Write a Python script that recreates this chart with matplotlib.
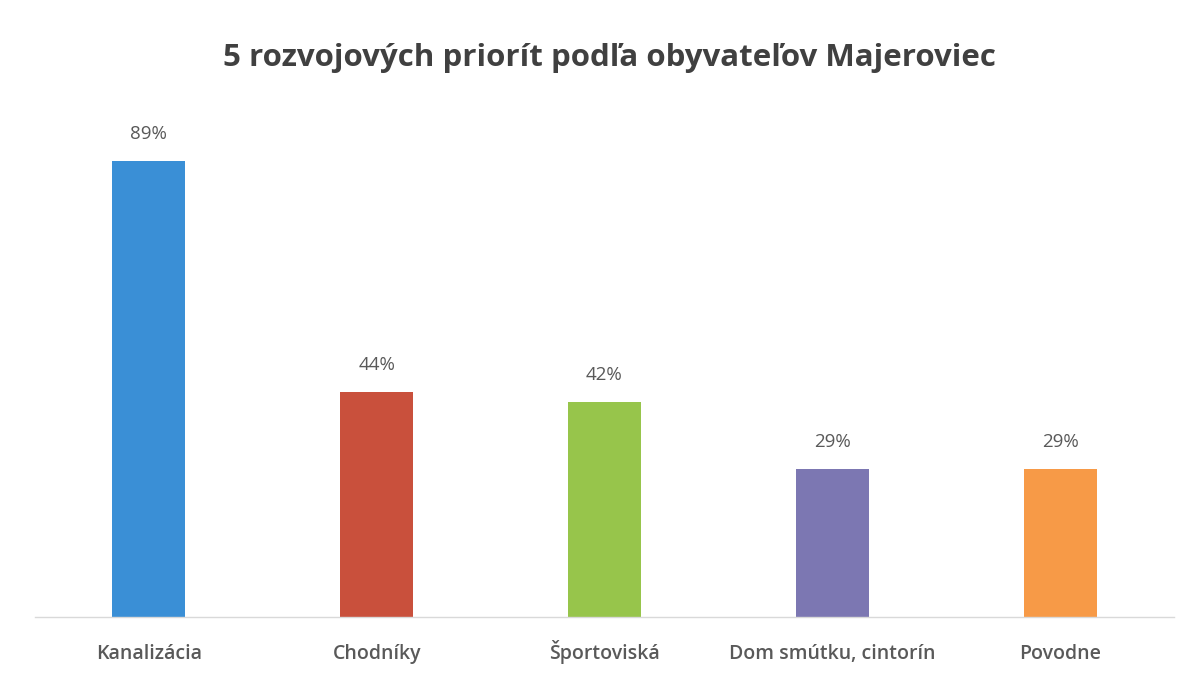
import matplotlib
matplotlib.use("Agg")
import matplotlib.pyplot as plt

categories = ["Kanalizácia", "Chodníky", "Športoviská", "Dom smútku, cintorín", "Povodne"]
values = [89, 44, 42, 29, 29]
labels = ["89%", "44%", "42%", "29%", "29%"]
colors = ["#3a8fd6", "#c9503c", "#97c54b", "#7c77b2", "#f79a47"]

plt.rcParams['font.family'] = ['Open Sans', 'DejaVu Sans']

fig = plt.figure(figsize=(11.93, 6.83), dpi=100)
ax = fig.add_axes([35/1193, 1 - 617/683, (1174-35)/1193, (617-105)/683])

x = list(range(len(categories)))
ax.bar(x, values, width=0.32, color=colors)
for xi, v, lab in zip(x, values, labels):
    ax.text(xi, v + 3.5, lab, ha='center', va='bottom', fontsize=13.5, color='#595959')

ax.set_xlim(-0.5, len(categories) - 0.5)
ax.set_ylim(0, 100)
ax.set_yticks([])
ax.set_xticks(x)
ax.set_xticklabels(categories, fontsize=14, color='#595959', fontweight='semibold')
for t in ax.get_xticklabels():
    t.set_verticalalignment('baseline')
ax.tick_params(axis='x', length=0, pad=30)
for s in ['top', 'right', 'left']:
    ax.spines[s].set_visible(False)
ax.spines['bottom'].set_color('#d9d9d9')
ax.spines['bottom'].set_linewidth(1)

fig.text(609/1193, 1 - 58/683, "5 rozvojových priorít podľa obyvateľov Majeroviec",
         ha='center', va='center', fontsize=22.5, fontweight='bold', color='#404040')

fig.savefig("out.png", dpi=100)
